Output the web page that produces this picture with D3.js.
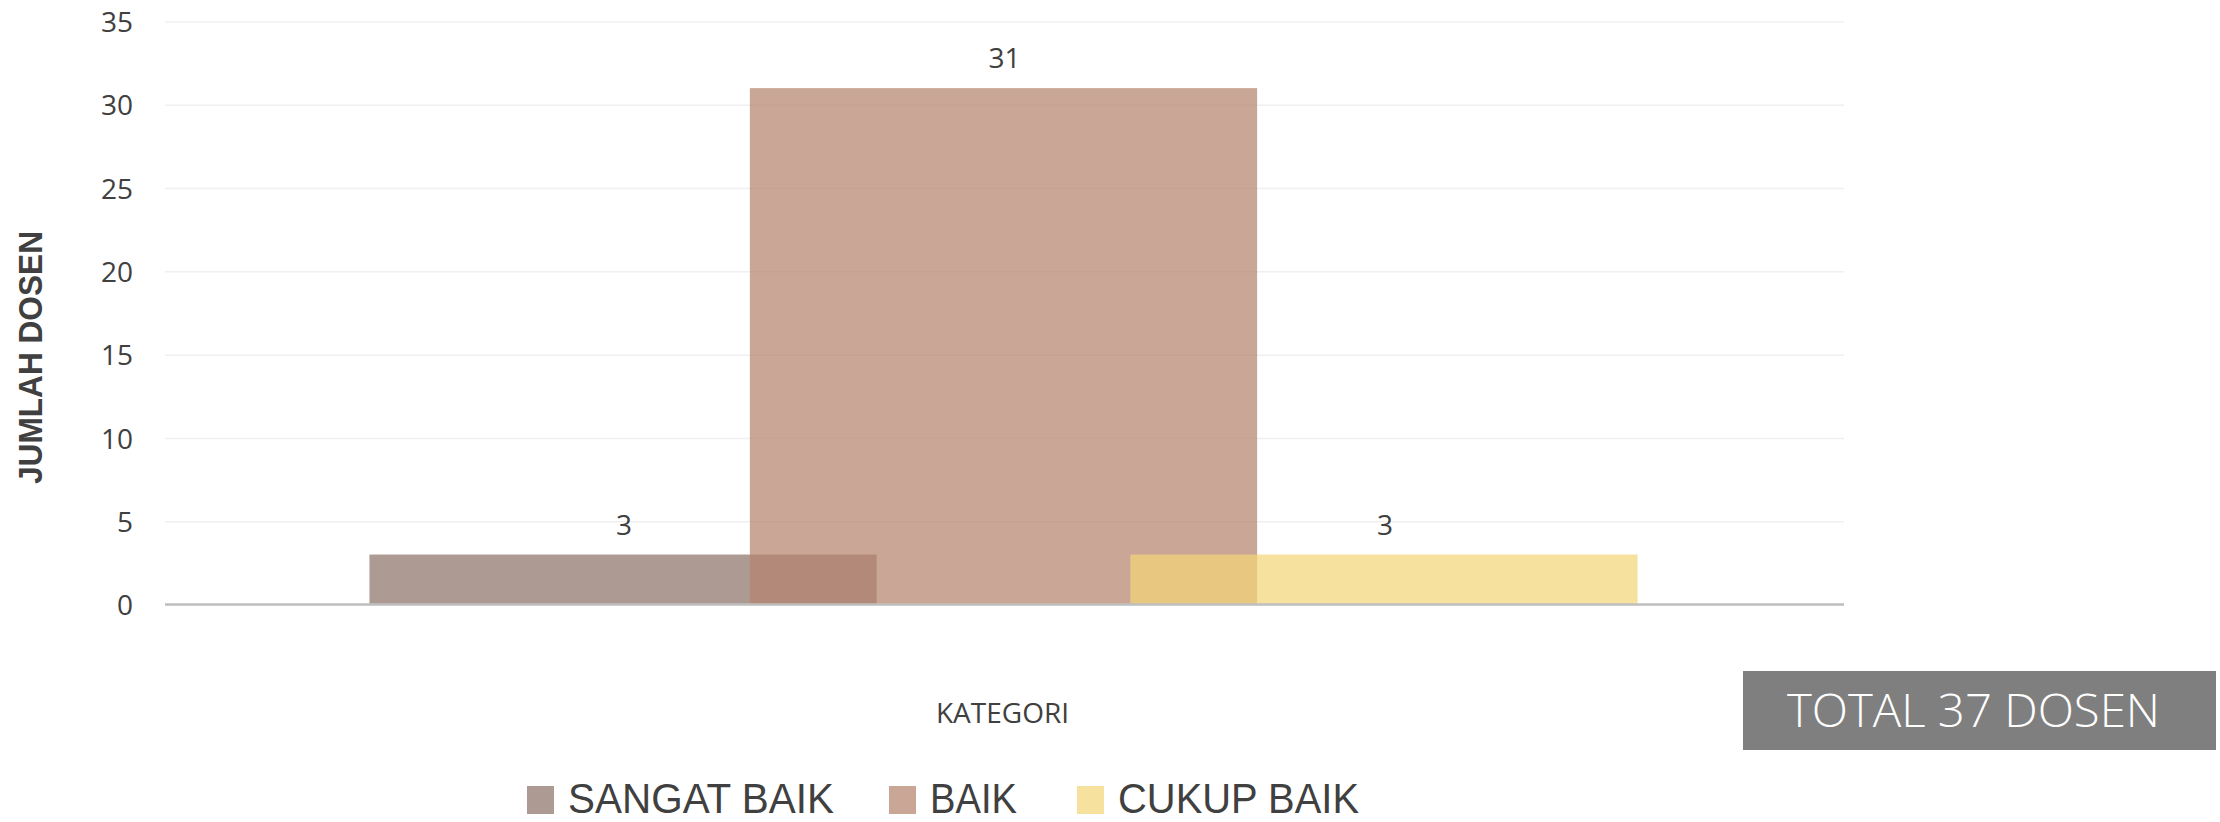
<!DOCTYPE html>
<html>
<head>
<meta charset="utf-8">
<script src="https://cdn.jsdelivr.net/npm/d3@7"></script>
<style>
  html, body { margin: 0; padding: 0; background: #fff; }
  svg { display: block; }
</style>
</head>
<body>
<div id="graph"></div>
<script>
// data
var categories = ["KATEGORI"];
var seriesNames = ["SANGAT BAIK", "BAIK", "CUKUP BAIK"];
var seriesValues = [3, 31, 3];
var seriesColors = ["#8e756a", "#b5836f", "#f4d578"];
var yTicks = [0, 5, 10, 15, 20, 25, 30, 35];
var totalLabel = "TOTAL 37 DOSEN";

var W = 2220, H = 822;
var plot = {left: 165, right: 1844, top: 21.5, bottom: 604.5};

var svg = d3.select("#graph").append("svg")
    .attr("width", W)
    .attr("height", H);

// scales
var y = d3.scaleLinear().domain([0, 35]).range([plot.bottom, plot.top]);
var x0 = d3.scaleBand().domain(categories)
    .range([plot.left, plot.right])
    .paddingInner(0).paddingOuter(0.162);
var overlap = 0.25;
var barW = x0.bandwidth() / (1 + (seriesNames.length - 1) * (1 - overlap));
var x1 = d3.scalePoint().domain(seriesNames).range([0, x0.bandwidth() - barW]);

// gridlines
svg.append("g")
  .attr("transform", "translate(" + plot.left + ",0)")
  .call(d3.axisLeft(y).tickValues(yTicks).tickSize(-(plot.right - plot.left)).tickFormat(""))
  .call(function(g) { g.select(".domain").remove(); })
  .selectAll("line")
    .attr("stroke", "#f0f0f0")
    .attr("stroke-width", 1.5);

// y tick labels
svg.append("g")
  .attr("transform", "translate(133,0)")
  .call(d3.axisLeft(y).tickValues(yTicks).tickSize(0).tickPadding(0))
  .call(function(g) { g.select(".domain").remove(); })
  .selectAll("text")
    .attr("font-family", "'Open Sans', sans-serif")
    .attr("font-size", 28)
    .attr("fill", "#404040")
    .attr("dy", "0.36em");

// bars
var rows = seriesNames.map(function(s, i) {
  return {name: s, value: seriesValues[i], color: seriesColors[i]};
});

var cat = categories[0];
svg.append("g").selectAll("rect")
  .data(rows)
  .enter().append("rect")
    .attr("x", function(d) { return x0(cat) + x1(d.name) - 1; })
    .attr("y", function(d) { return y(d.value); })
    .attr("width", barW)
    .attr("height", function(d) { return y(0) - y(d.value); })
    .attr("fill", function(d) { return d.color; })
    .attr("fill-opacity", 0.72);

// data labels
svg.append("g").selectAll("text")
  .data(rows)
  .enter().append("text")
    .attr("x", function(d) { return x0(cat) + x1(d.name) + barW / 2; })
    .attr("y", function(d) { return y(d.value) - 20; })
    .attr("text-anchor", "middle")
    .attr("font-family", "'Open Sans', sans-serif")
    .attr("font-size", 28)
    .attr("fill", "#404040")
    .text(function(d) { return d.value; });

// baseline
svg.append("line")
  .attr("x1", plot.left).attr("x2", plot.right)
  .attr("y1", y(0)).attr("y2", y(0))
  .attr("stroke", "#bfbfbf")
  .attr("stroke-width", 2.5);

// axis titles
svg.append("text")
  .attr("x", (plot.left + plot.right) / 2 - 2)
  .attr("y", 722.5)
  .attr("text-anchor", "middle")
  .attr("font-family", "'Open Sans', sans-serif")
  .attr("font-size", 28)
  .attr("fill", "#404040")
  .text(cat);

svg.append("text")
  .attr("transform", "translate(42,357.5) rotate(-90)")
  .attr("text-anchor", "middle")
  .attr("font-family", "'Liberation Sans Narrow', 'Liberation Sans', sans-serif")
  .attr("font-weight", "bold")
  .attr("font-size", 33)
  .attr("fill", "#404040")
  .attr("textLength", 253)
  .attr("lengthAdjust", "spacingAndGlyphs")
  .text("JUMLAH DOSEN");

// total box
svg.append("rect")
  .attr("x", 1743).attr("y", 671)
  .attr("width", 473).attr("height", 79)
  .attr("fill", "#7f7f7f");
svg.append("text")
  .attr("x", 1973.5)
  .attr("y", 726.5)
  .attr("text-anchor", "middle")
  .attr("font-family", "'Open Sans', sans-serif")
  .attr("font-weight", 300)
  .attr("font-size", 46)
  .attr("fill", "#ffffff")
  .attr("textLength", 373)
  .attr("lengthAdjust", "spacingAndGlyphs")
  .text(totalLabel);

// legend
var legendX = [527, 889, 1077];
var legendTextW = [266, 87, 241];
var legend = svg.append("g").selectAll("g")
  .data(rows)
  .enter().append("g")
    .attr("transform", function(d, i) { return "translate(" + legendX[i] + ",786)"; });
legend.append("rect")
  .attr("width", 27).attr("height", 28)
  .attr("fill", function(d) { return d.color; })
  .attr("fill-opacity", 0.72);
legend.append("text")
  .attr("x", 41)
  .attr("y", 27)
  .attr("font-family", "'Liberation Sans Narrow', 'Liberation Sans', sans-serif")
  .attr("font-size", 43)
  .attr("fill", "#404040")
  .attr("textLength", function(d, i) { return legendTextW[i]; })
  .attr("lengthAdjust", "spacingAndGlyphs")
  .text(function(d) { return d.name; });
</script>
</body>
</html>
